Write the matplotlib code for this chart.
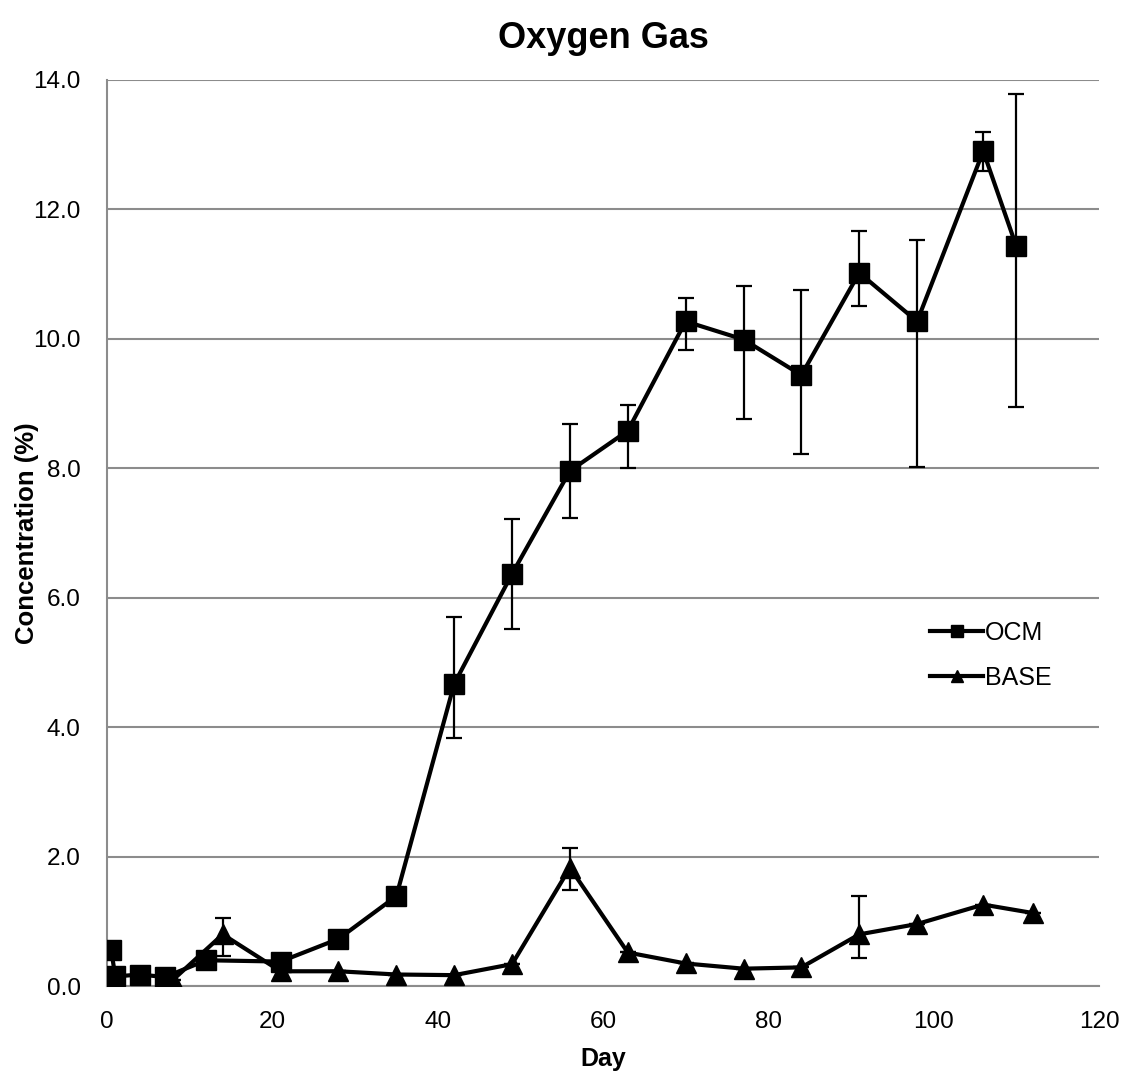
import numpy as np
import matplotlib
matplotlib.use("Agg")
import matplotlib.pyplot as plt
from matplotlib.ticker import FormatStrFormatter

plt.rcParams['font.family'] = ['Liberation Sans', 'DejaVu Sans']

# OCM series (day, concentration %, error below, error above)
ocm_day = [0.5, 1, 4, 7, 12, 21, 28, 35, 42, 49, 56, 63, 70, 77, 84, 91, 98, 106, 110]
ocm_val = [0.56, 0.15, 0.18, 0.14, 0.40, 0.38, 0.73, 1.39, 4.67, 6.37, 7.96, 8.58,
           10.27, 9.99, 9.44, 11.02, 10.27, 12.90, 11.43]
ocm_lo = [0, 0, 0, 0, 0, 0, 0, 0, 0.84, 0.85, 0.72, 0.58, 0.44, 1.23, 1.22, 0.52, 2.25, 0.3, 2.48]
ocm_hi = [0, 0, 0, 0, 0, 0, 0, 0, 1.04, 0.84, 0.73, 0.40, 0.36, 0.82, 1.32, 0.64, 1.26, 0.29, 2.35]

# BASE series
base_day = [8, 14, 21, 28, 35, 42, 49, 56, 63, 70, 77, 84, 91, 98, 106, 112]
base_val = [0.10, 0.80, 0.23, 0.23, 0.18, 0.17, 0.34, 1.83, 0.52, 0.35, 0.27, 0.29,
            0.80, 0.96, 1.26, 1.13]
base_lo = [0, 0.34, 0, 0, 0, 0, 0, 0.34, 0, 0, 0, 0, 0.36, 0, 0, 0]
base_hi = [0, 0.26, 0, 0, 0, 0, 0, 0.30, 0, 0, 0, 0, 0.59, 0, 0, 0]

fig = plt.figure(figsize=(11.23, 10.76), dpi=100)
ax = fig.add_axes([0.0953, 0.0835, 0.8833, 0.8422])

ax.plot(ocm_day, ocm_val, color='black', lw=3, marker='s', ms=14, label='OCM', zorder=3)
ax.plot(base_day, base_val, color='black', lw=3, marker='^', ms=15, label='BASE', zorder=3)
ax.errorbar(ocm_day, ocm_val, yerr=[ocm_lo, ocm_hi], fmt='none', ecolor='black',
            elinewidth=1.6, capsize=6, capthick=1.6, zorder=4)
ax.errorbar(base_day, base_val, yerr=[base_lo, base_hi], fmt='none', ecolor='black',
            elinewidth=1.6, capsize=6, capthick=1.6, zorder=4)

ax.set_xlim(0, 120)
ax.set_ylim(0, 14)
ax.set_xticks(np.arange(0, 121, 20))
ax.set_yticks(np.arange(0, 14.1, 2))
ax.yaxis.set_major_formatter(FormatStrFormatter('%.1f'))
ax.grid(axis='y', color='#8c8c8c', lw=1.5)
ax.set_axisbelow(True)
for s in ['top', 'right']:
    ax.spines[s].set_visible(False)
for s in ['left', 'bottom']:
    ax.spines[s].set_color('#8c8c8c')
    ax.spines[s].set_linewidth(1.5)
ax.tick_params(axis='both', labelsize=17.5, length=0)
ax.tick_params(axis='x', pad=18)
ax.tick_params(axis='y', pad=19)

ax.set_title('Oxygen Gas', fontsize=26, fontweight='bold', pad=23)
ax.set_xlabel('Day', fontsize=18, fontweight='bold', labelpad=10)
ax.set_ylabel('Concentration (%)', fontsize=18.5, fontweight='bold')
ax.yaxis.set_label_coords(-0.069, 0.5)

ax.legend(loc='center left', bbox_to_anchor=(0.83, 0.365), frameon=False, fontsize=18,
          handlelength=2.1, handletextpad=0.1, labelspacing=0.85, markerscale=0.6,
          borderpad=0, borderaxespad=0)

fig.savefig('out.png')
